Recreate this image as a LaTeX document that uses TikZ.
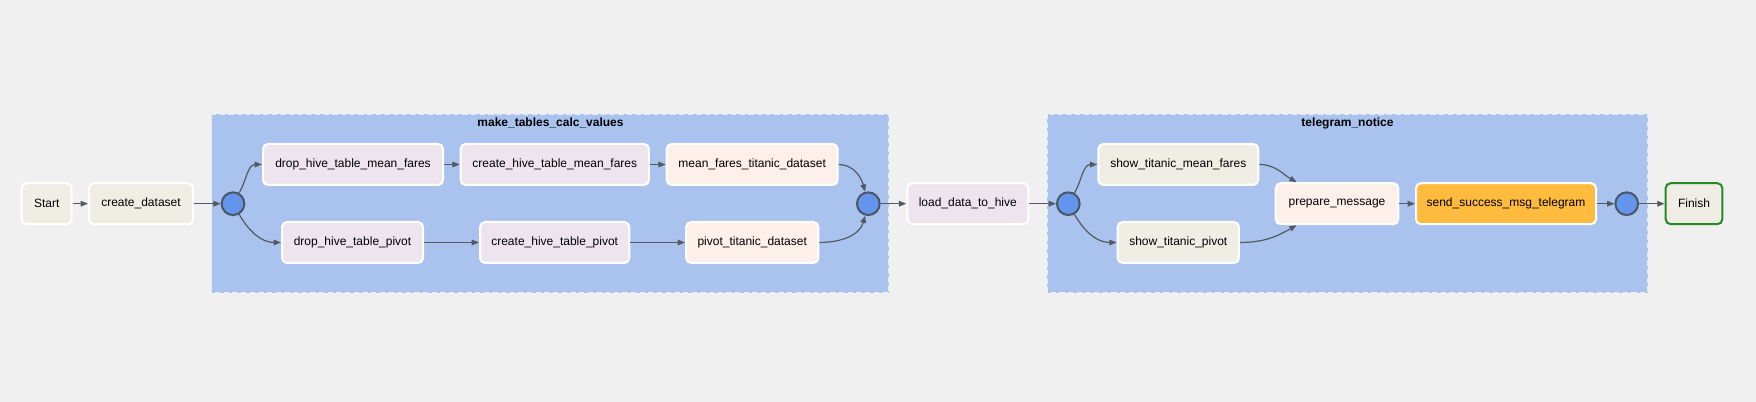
\documentclass[tikz,border=0pt]{standalone}
\usepackage{fontspec}
\setmainfont{Liberation Sans}
\usetikzlibrary{arrows.meta}
\definecolor{bgc}{HTML}{F0F0F0}
\definecolor{clfill}{HTML}{A9C3EE}
\definecolor{clborder}{HTML}{E6EDF8}
\definecolor{beige}{HTML}{F0EDE4}
\definecolor{lav}{HTML}{EEE4EE}
\definecolor{peach}{HTML}{FDEFE9}
\definecolor{orng}{HTML}{FFBB3E}
\definecolor{joinfill}{HTML}{6495ED}
\definecolor{joinborder}{HTML}{4B5563}
\definecolor{fingreen}{HTML}{228B22}
\definecolor{edgec}{HTML}{555962}
\tikzset{
  task/.style={rectangle, rounded corners=3.75pt, draw=white, line width=1.5pt,
    minimum height=30.75pt, inner sep=0pt, font=\fontsize{9}{11}\selectfont, text=black},
  bw/.style={minimum width=#1*0.75pt},
  joinnode/.style={circle, fill=joinfill, draw=joinborder, line width=1.5pt,
    minimum size=17pt, inner sep=0pt},
  cluster/.style={fill=clfill, draw=clborder, line width=1.1pt, dash pattern=on 4pt off 2.5pt},
  cltitle/.style={font=\bfseries\fontsize{9}{11}\selectfont, text=black},
  edge/.style={draw=edgec, line width=0.9pt, -{Triangle[length=5.5pt,width=4.2pt]}},
}
\begin{document}
\begin{tikzpicture}[x=0.75pt,y=-0.75pt]
\fill[bgc] (0,0) rectangle (1756,402);
\useasboundingbox (0,0) rectangle (1756,402);
% clusters
\draw[cluster] (211.7,114) rectangle (889,292.7);
\node[cltitle] (t1) at (550.5,123.3) {make\_tables\_calc\_values};
\draw[cluster] (1047.3,114) rectangle (1647.7,292.7);
\node[cltitle] (t2) at (1347.5,123.3) {telegram\_notice};
% nodes
\node[task, bw=50, fill=beige] (start) at (46.7,203.7) {Start};
\node[task, bw=104, fill=beige] (cd) at (141,203.7) {create\_dataset};
\node[joinnode] (c1) at (233,203.7) {};
\node[task, bw=180, fill=lav] (dmf) at (353,164.5) {drop\_hive\_table\_mean\_fares};
\node[task, bw=188.3, fill=lav] (cmf) at (554.8,164.5) {create\_hive\_table\_mean\_fares};
\node[task, bw=171, fill=peach] (mft) at (752.2,164.5) {mean\_fares\_titanic\_dataset};
\node[task, bw=141, fill=lav] (dp) at (352.5,242.5) {drop\_hive\_table\_pivot};
\node[task, bw=149.3, fill=lav] (cp) at (554.7,242.5) {create\_hive\_table\_pivot};
\node[task, bw=132.3, fill=peach] (pt) at (752.2,242.5) {pivot\_titanic\_dataset};
\node[joinnode] (c2) at (868.3,203.7) {};
\node[task, bw=121, fill=lav] (load) at (967.8,203.7) {load\_data\_to\_hive};
\node[joinnode] (c3) at (1068.3,203.7) {};
\node[task, bw=160, fill=beige] (smf) at (1178.3,164.5) {show\_titanic\_mean\_fares};
\node[task, bw=121.3, fill=beige] (sp) at (1178.3,242.5) {show\_titanic\_pivot};
\node[task, bw=122.7, fill=peach] (pm) at (1337,203.7) {prepare\_message};
\node[task, bw=180, fill=orng] (send) at (1506,203.7) {send\_success\_msg\_telegram};
\node[joinnode] (c4) at (1626.7,203.7) {};
\node[task, bw=56.7, fill=beige, draw=fingreen] (fin) at (1694,203.7) {Finish};
% edges
\draw[edge] (start) -- (cd);
\draw[edge] (cd) -- (c1);
\draw[edge] (c1) to[out=60,in=180] (dmf.west);
\draw[edge] (c1) to[out=-60,in=180] (dp.west);
\draw[edge] (dmf) -- (cmf);
\draw[edge] (cmf) -- (mft);
\draw[edge] (mft.east) to[out=0,in=105] (c2);
\draw[edge] (dp) -- (cp);
\draw[edge] (cp) -- (pt);
\draw[edge] (pt.east) to[out=0,in=-105] (c2);
\draw[edge] (c2) -- (load);
\draw[edge] (load) -- (c3);
\draw[edge] (c3) to[out=60,in=180] (smf.west);
\draw[edge] (c3) to[out=-60,in=180] (sp.west);
\draw[edge] (smf.east) to[out=0,in=150] ([xshift=16.5pt]pm.north west);
\draw[edge] (sp.east) to[out=0,in=-150] ([xshift=16.5pt]pm.south west);
\draw[edge] (pm) -- (send);
\draw[edge] (send) -- (c4);
\draw[edge] (c4) -- (fin);
\end{tikzpicture}
\end{document}
